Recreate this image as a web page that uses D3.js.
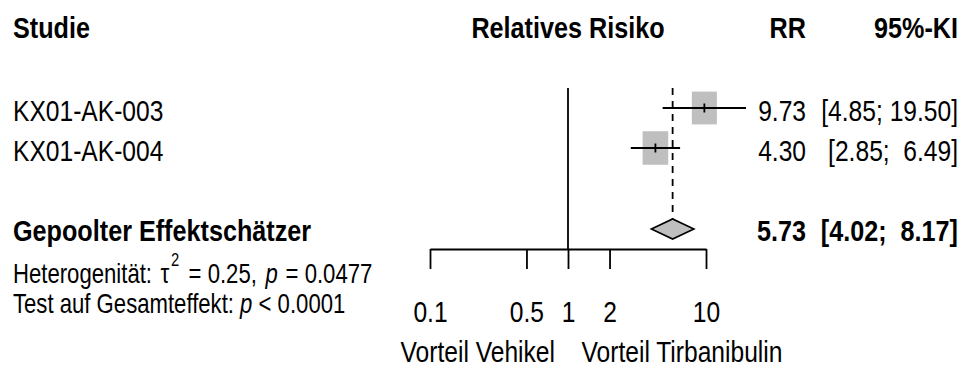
<!DOCTYPE html>
<html>
<head>
<meta charset="utf-8">
<script src="https://cdn.jsdelivr.net/npm/d3@7"></script>
<style>
  html, body { margin: 0; padding: 0; background: #fff; }
  svg { display: block; font-family: "Liberation Sans Narrow", "Arial Narrow", "Liberation Sans", Arial, sans-serif; }
  text { white-space: pre; }
</style>
</head>
<body>
<svg id="chart" width="964" height="369"></svg>
<script>
// Study-level relative risks with 95% confidence limits
const studies = ["KX01-AK-003", "KX01-AK-004"];
const rr = [9.73, 4.30];
const lower = [4.85, 2.85];
const upper = [19.50, 6.49];
const weights = [48.9, 51.1];        // percent weight of each study

// Pooled (random effects) estimate
const pooledLabel = "Gepoolter Effektschätzer";
const pooled = { rr: 5.73, lower: 4.02, upper: 8.17 };

// Axis
const tickValues = [0.1, 0.5, 1, 2, 10];
const tickLabels = ["0.1", "0.5", "1", "2", "10"];
const headers = { study: "Studie", effect: "Relatives Risiko", rr: "RR", ci: "95%-KI" };
const labelLeft = "Vorteil Vehikel";
const labelRight = "Vorteil Tirbanibulin";

const fmt = d3.format(".2f");
const ciText = (lo, hi, width) => {
  const a = fmt(lo), b = fmt(hi);
  return "[" + a + ";" + " ".repeat(width - b.length + 1) + b + "]";
};

const svg = d3.select("#chart");
const x = d3.scaleLog().domain([0.1, 10]).range([430, 706]);

const rowY = [108, 148];
const pooledY = 229;
const axisY = 249;
const rrRight = 806;
const ciRight = 958;
const FS = 30;
const NARROW = 0.82;       // horizontal condensing of the sans face
const NARROW_BOLD = 0.84;

// Condensed text placed at (px, py)
function label(parent, px, py, str, anchor = "start", size = FS, bold = false) {
  return parent.append("text")
    .attr("transform", `translate(${px},${py}) scale(${bold ? NARROW_BOLD : NARROW},1)`)
    .attr("text-anchor", anchor)
    .attr("font-size", size)
    .attr("font-weight", bold ? "bold" : null)
    .text(str);
}

// Column headers
label(svg, 13, 38, headers.study, "start", FS, true);
label(svg, x(1), 38, headers.effect, "middle", FS, true);
label(svg, rrRight, 38, headers.rr, "end", FS, true);
label(svg, ciRight, 38, headers.ci, "end", FS, true);

// Line of no effect
svg.append("line")
  .attr("x1", x(1)).attr("x2", x(1))
  .attr("y1", 88).attr("y2", axisY)
  .attr("stroke", "#000").attr("stroke-width", 1.8);

// Line at the pooled estimate
svg.append("line")
  .attr("x1", x(pooled.rr)).attr("x2", x(pooled.rr))
  .attr("y1", 88).attr("y2", pooledY - 10)
  .attr("stroke", "#000").attr("stroke-width", 1.8)
  .attr("stroke-dasharray", "7,6");

// Study rows
const ciWidth = d3.max(upper.concat([pooled.upper]), d => fmt(d).length);
const side = w => 25.6 * Math.sqrt(w / d3.max(weights));
studies.forEach((s, i) => {
  const g = svg.append("g");
  const y = rowY[i];
  const w = side(weights[i]);
  const h = w * 1.31;
  g.append("rect")
    .attr("x", x(rr[i]) - w / 2).attr("y", y - h / 2)
    .attr("width", w).attr("height", h)
    .attr("fill", "#bfbfbf");
  g.append("line")
    .attr("x1", x(lower[i])).attr("x2", x(upper[i]))
    .attr("y1", y).attr("y2", y)
    .attr("stroke", "#000").attr("stroke-width", 1.8);
  g.append("line")
    .attr("x1", x(rr[i])).attr("x2", x(rr[i]))
    .attr("y1", y - 4.5).attr("y2", y + 4.5)
    .attr("stroke", "#000").attr("stroke-width", 1.8);
  label(g, 13, y + 12.5, s);
  label(g, rrRight, y + 12.5, fmt(rr[i]), "end");
  label(g, ciRight, y + 12.5, ciText(lower[i], upper[i], ciWidth), "end");
});

// Pooled diamond
const dia = [
  [x(pooled.lower), pooledY], [x(pooled.rr), pooledY - 10],
  [x(pooled.upper), pooledY], [x(pooled.rr), pooledY + 10]
];
svg.append("path")
  .attr("d", d3.line()(dia) + "Z")
  .attr("fill", "#bfbfbf").attr("stroke", "#000").attr("stroke-width", 1.6);

label(svg, 13, pooledY + 11.5, pooledLabel, "start", FS, true);
label(svg, rrRight, pooledY + 11.5, fmt(pooled.rr), "end", FS, true);
label(svg, ciRight, pooledY + 11.5, ciText(pooled.lower, pooled.upper, ciWidth), "end", FS, true);

// Heterogeneity and overall effect statistics
const het = label(svg, 13, 283, "", "start", 27);
het.append("tspan").text("Heterogenität: ");
het.append("tspan").attr("dx", 3).text("τ");
het.append("tspan").attr("font-size", 18).attr("dy", -17).attr("dx", 2).text("2");
het.append("tspan").attr("dy", 17).attr("dx", 4).text(" = 0.25, ");
het.append("tspan").attr("dx", 3).attr("font-style", "italic").text("p");
het.append("tspan").attr("dx", 2).text(" = 0.0477");
const tst = label(svg, 13, 313, "", "start", 27);
tst.append("tspan").text("Test auf Gesamteffekt: ");
tst.append("tspan").attr("font-style", "italic").text("p");
tst.append("tspan").text(" < 0.0001");

// Axis
const axis = d3.axisBottom(x)
  .tickValues(tickValues)
  .tickFormat((d, i) => tickLabels[i])
  .tickSize(20)
  .tickSizeOuter(0);
const ax = svg.append("g").attr("transform", `translate(0,${axisY})`).call(axis);
ax.attr("font-family", null).attr("font-size", null);
ax.select(".domain").attr("stroke", "#000").attr("stroke-width", 1.8);
ax.selectAll(".tick line").attr("stroke", "#000").attr("stroke-width", 1.8);
ax.selectAll(".tick text")
  .attr("y", null).attr("dy", null)
  .attr("transform", `translate(0,73) scale(${NARROW},1)`)
  .attr("font-size", FS)
  .attr("fill", "#000");

label(svg, x(1) - 13, 362, labelLeft, "end");
label(svg, x(1) + 13.5, 362, labelRight, "start");
</script>
</body>
</html>
